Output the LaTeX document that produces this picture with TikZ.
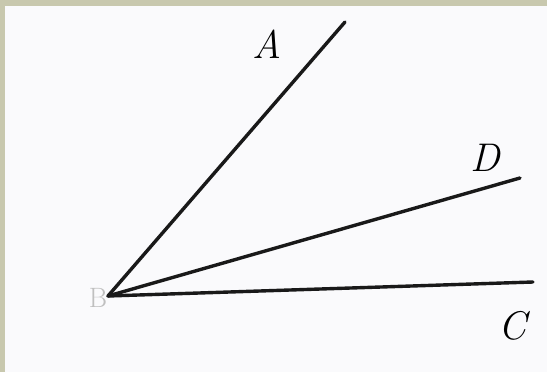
\documentclass[tikz,border=0pt]{standalone}
\usepackage{tikz}
\usetikzlibrary{positioning}
\definecolor{scanframe}{RGB}{200,200,174}
\definecolor{scanpaper}{RGB}{250,250,252}
\tikzset{
  ray/.style={line width=3.4pt,draw=black!90},
  ptlabel/.style={font=\fontsize{40}{42}\selectfont\itshape,inner sep=0pt}
}
\begin{document}
\begin{tikzpicture}[x=1pt,y=-1pt]
    \useasboundingbox (0,0) rectangle (547,372);
    \fill[scanframe] (0,0) rectangle (547,372);
    \fill[scanpaper] (5,6) rectangle (547,372);
    % vertex and ends of the rays
    \coordinate (B) at (108,296);
    \coordinate (A) at (345,22);
    \coordinate (D) at (520,178);
    \coordinate (C) at (533,282);
    \draw[ray,line cap=round] (B) -- (A);
    \draw[ray,line cap=round] (B) -- (D);
    \draw[ray,line cap=round] (B) -- (C);
    \node[ptlabel] (lA) at (267,44) {A};
    \node[ptlabel] (lD) at (485,158) {D};
    \node[ptlabel] (lC) at (512,326) {C};
    \node[ptlabel,font=\fontsize{28}{30}\selectfont,text=black!25] (lB) at (98,298) {B};
  \end{tikzpicture}
\end{document}
